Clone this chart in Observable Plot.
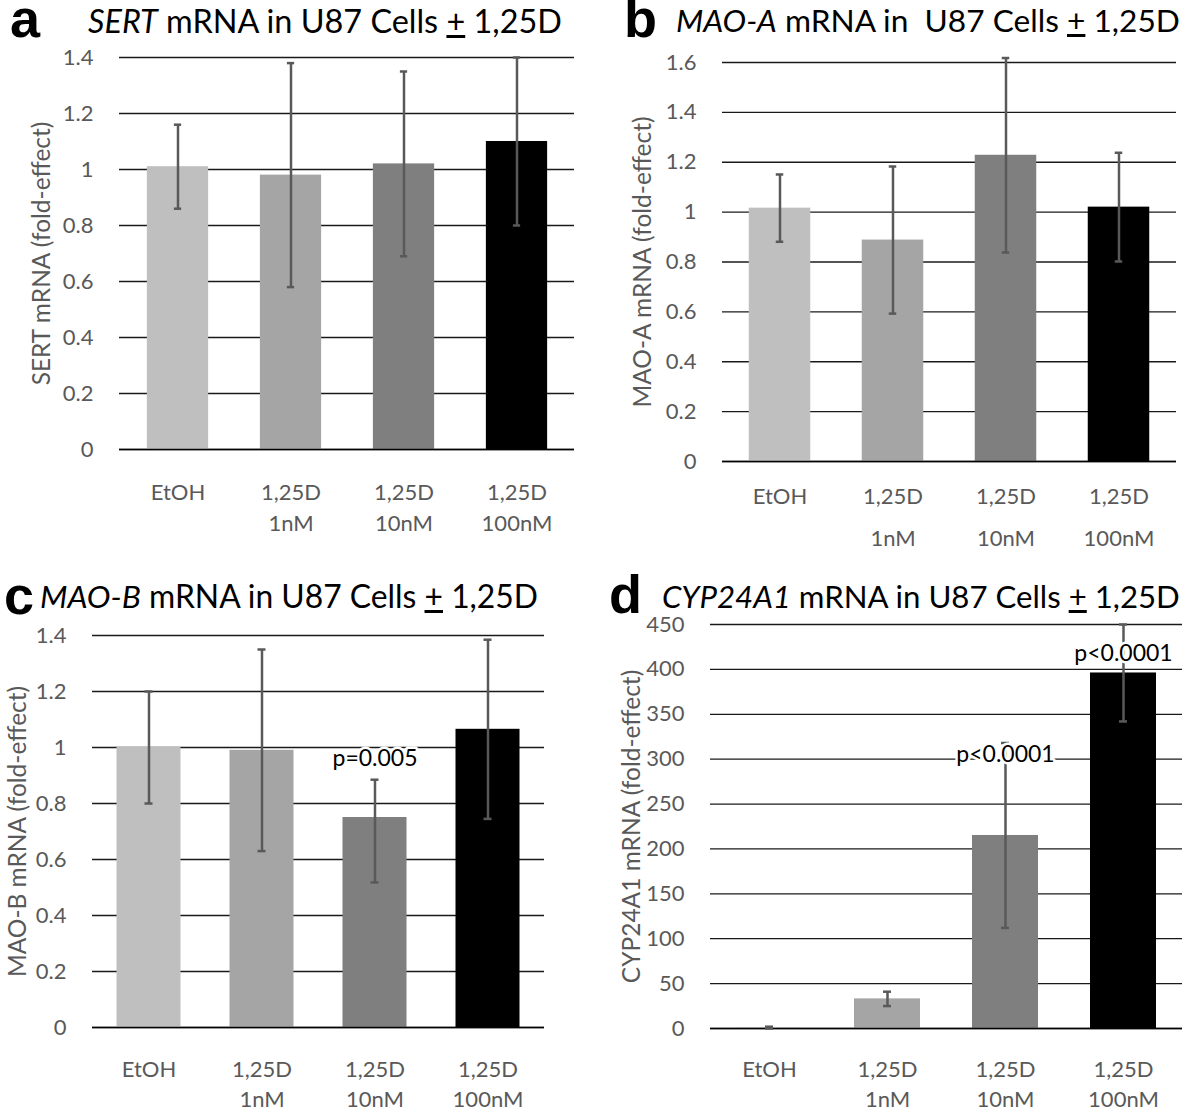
<!DOCTYPE html>
<html><head><meta charset="utf-8">
<script src="https://cdn.jsdelivr.net/npm/d3@7"></script>
<script src="https://cdn.jsdelivr.net/npm/@observablehq/plot@0.6"></script>
<style>
body{margin:0;background:#fff;}
#root{position:relative;width:1184px;height:1111px;overflow:hidden;font-family:Lato,sans-serif;}
.panel{position:absolute;}
.letter{position:absolute;font-family:"Liberation Sans",Arial,sans-serif;font-weight:bold;font-size:54px;line-height:0.7;color:#000;}
.title{position:absolute;font-family:Lato,sans-serif;font-size:30px;line-height:0.85;color:#000;white-space:pre;}
.u{text-decoration:underline;}
</style></head><body><div id="root"></div>
<script>
// ---- data ----
const categories = ["EtOH", "1,25D\n1nM", "1,25D\n10nM", "1,25D\n100nM"];
const barColors = ["#bfbfbf", "#a5a5a5", "#7f7f7f", "#000000"];

const sertMean   = [1.01, 0.98, 1.02, 1.10];
const sertErrUp  = [0.15, 0.40, 0.33, 0.30];
const sertErrDn  = [0.15, 0.40, 0.33, 0.30];
const sertTicks  = [0, 0.2, 0.4, 0.6, 0.8, 1, 1.2, 1.4];

const maoaMean   = [1.016, 0.888, 1.228, 1.02];
const maoaErrUp  = [0.135, 0.295, 0.39, 0.218];
const maoaErrDn  = [0.135, 0.295, 0.39, 0.218];
const maoaTicks  = [0, 0.2, 0.4, 0.6, 0.8, 1, 1.2, 1.4, 1.6];

const maobMean   = [1.00, 0.99, 0.75, 1.065];
const maobErrUp  = [0.20, 0.36, 0.135, 0.32];
const maobErrDn  = [0.20, 0.36, 0.232, 0.32];
const maobTicks  = [0, 0.2, 0.4, 0.6, 0.8, 1, 1.2, 1.4];
const maobP  = ["", "", "p=0.005", ""];
const maobPy = [null, null, 0.96, null];

const cypMean   = [1, 33, 215, 396];
const cypErrUp  = [1, 8, 103, 54];
const cypErrDn  = [1, 8, 103, 54];
const cypTicks  = [0, 50, 100, 150, 200, 250, 300, 350, 400, 450];
const cypP  = ["", "", "p<0.0001", "p<0.0001"];
const cypPy = [null, null, 305, 418];

// ---- drawing ----
const root = document.getElementById("root");

function panel(o) {
  const data = categories.map((c, i) => ({
    cat: c, v: o.mean[i], lo: o.mean[i] - o.errDn[i], hi: o.mean[i] + o.errUp[i],
    color: barColors[i], p: o.p ? o.p[i] : "", py: o.py ? o.py[i] : null
  }));
  const W = o.width - o.mL - o.mR;
  const step = W / categories.length;
  const inset = (step - o.barW) / 2;
  const capInset = (step - 8) / 2;
  const chart = Plot.plot({
    width: o.width, height: o.height,
    marginLeft: o.mL, marginRight: o.mR, marginTop: o.mT, marginBottom: o.mB,
    style: {fontFamily: "Lato, sans-serif", fontSize: "22px", color: "#595959", background: "transparent", overflow: "visible"},
    x: {domain: categories, padding: 0, axis: null},
    y: {domain: [o.ticks[0], o.ticks[o.ticks.length - 1]], axis: null},
    marks: [
      Plot.gridY(o.ticks, {stroke: "#000", strokeOpacity: 0.9, strokeWidth: 1.3}),
      Plot.barY(data, {x: "cat", y: "v", fill: "color", insetLeft: inset, insetRight: inset}),
      Plot.ruleY([0], {stroke: "#000", strokeOpacity: 0.9, strokeWidth: 1.3}),
      Plot.ruleX(data, {x: "cat", y1: "lo", y2: "hi", stroke: "#595959", strokeWidth: 2.5}),
      Plot.tickY(data, {x: "cat", y: "lo", stroke: "#595959", strokeWidth: 2.5, insetLeft: capInset, insetRight: capInset}),
      Plot.tickY(data, {x: "cat", y: "hi", stroke: "#595959", strokeWidth: 2.5, insetLeft: capInset, insetRight: capInset}),
      Plot.axisY(o.ticks, {tickSize: 0, tickPadding: 26, tickFormat: d => String(d), label: null}),
      Plot.axisX({tickSize: 0, tickPadding: o.xPad, lineHeight: o.xLine, label: null}),
      Plot.text([o.yLabel], {frameAnchor: "left", rotate: -90, dx: o.labelDx, textAnchor: "middle", fill: "#595959", fontSize: 24.5}),
      Plot.text(data.filter(d => d.p), {x: "cat", y: "py", text: "p", fill: "#000", fontSize: 23, stroke: "white", strokeWidth: 5})
    ]
  });
  chart.classList.add("panel");
  chart.style.left = o.left + "px";
  chart.style.top = o.top + "px";
  root.appendChild(chart);
}

function addText(cls, html, left, top, targetWidth) {
  const d = document.createElement("div");
  d.className = cls;
  d.innerHTML = html;
  d.style.left = left + "px";
  d.style.top = top + "px";
  root.appendChild(d);
  if (targetWidth) {
    const w = d.getBoundingClientRect().width;
    const fs = 30 * targetWidth / w;
    d.style.fontSize = fs + "px";
  }
}

panel({mean: sertMean, errUp: sertErrUp, errDn: sertErrDn, ticks: sertTicks, yLabel: "SERT mRNA (fold-effect)",
  left: 0, top: 40, width: 590, height: 510, mL: 119, mR: 16, mT: 17, mB: 101, barW: 62, labelDx: -77, xPad: 28, xLine: 1.41});
panel({mean: maoaMean, errUp: maoaErrUp, errDn: maoaErrDn, ticks: maoaTicks, yLabel: "MAO-A mRNA (fold-effect)",
  left: 595, top: 40, width: 589, height: 510, mL: 127, mR: 8, mT: 22, mB: 89, barW: 62, labelDx: -79, xPad: 13, xLine: 1.9});
panel({mean: maobMean, errUp: maobErrUp, errDn: maobErrDn, ticks: maobTicks, yLabel: "MAO-B mRNA (fold-effect)", p: maobP, py: maobPy,
  left: 0, top: 620, width: 590, height: 491, mL: 92, mR: 46, mT: 15, mB: 84, barW: 64, labelDx: -74, xPad: 28, xLine: 1.36});
panel({mean: cypMean, errUp: cypErrUp, errDn: cypErrDn, ticks: cypTicks, yLabel: "CYP24A1 mRNA (fold-effect)", p: cypP, py: cypPy,
  left: 595, top: 620, width: 589, height: 491, mL: 115, mR: 2, mT: 4, mB: 83, barW: 66, labelDx: -78, xPad: 27, xLine: 1.36});

addText("letter", "a", 10, 0);
addText("title", "<i>SERT</i> mRNA in U87 Cells <span class='u'>+</span> 1,25D", 88, 7, 474);
addText("letter", "b", 624, 0);
addText("title", "<i>MAO-A</i> mRNA in  U87 Cells <span class='u'>+</span> 1,25D", 676, 7, 504);
addText("letter", "c", 4, 577);
addText("title", "<i>MAO-B</i> mRNA in U87 Cells <span class='u'>+</span> 1,25D", 40, 583, 498);
addText("letter", "d", 609, 576);
addText("title", "<i>CYP24A1</i> mRNA in U87 Cells <span class='u'>+</span> 1,25D", 662, 583, 518);
</script></body></html>
